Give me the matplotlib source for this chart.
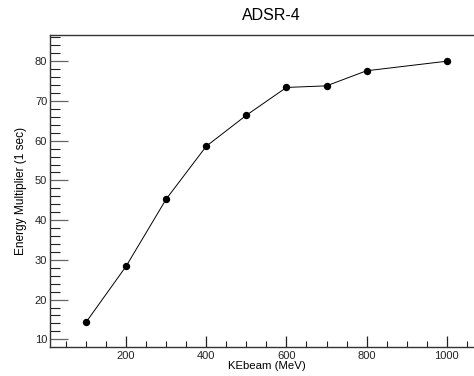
import matplotlib
matplotlib.use("Agg")
import matplotlib.pyplot as plt
from matplotlib.ticker import MultipleLocator

plt.rcParams['font.family'] = ['Liberation Sans', 'DejaVu Sans']

ke_beam = [100, 200, 300, 400, 500, 600, 700, 800, 1000]
energy_mult = [14.3, 28.4, 45.3, 58.6, 66.4, 73.4, 73.8, 77.6, 80.0]

fig = plt.figure(figsize=(4.74, 3.76), dpi=100)
ax = fig.add_axes([50/474, 1 - 347/376, (484 - 50)/474, (347 - 35)/376])

ax.plot(ke_beam, energy_mult, color='black', lw=0.7, marker='o', ms=4.3,
        markerfacecolor='black', markeredgecolor='black')

ax.set_xlim(10, 1093)
ax.set_ylim(8.06, 86.6)

ax.xaxis.set_major_locator(MultipleLocator(200))
ax.xaxis.set_minor_locator(MultipleLocator(50))
ax.yaxis.set_major_locator(MultipleLocator(10))
ax.yaxis.set_minor_locator(MultipleLocator(2))

ax.tick_params(axis='both', which='both', direction='in', labelsize=8, colors='#222222')
ax.tick_params(axis='x', which='major', length=8, width=0.9, top=False, pad=3)
ax.tick_params(axis='x', which='minor', length=4, width=0.8, top=False)
ax.tick_params(axis='y', which='major', length=13, width=0.9, right=False, pad=2, color='#666666')
ax.tick_params(axis='y', which='minor', length=7, width=0.8, right=False)

for s in ['left', 'bottom', 'top']:
    ax.spines[s].set_linewidth(1.0)
    ax.spines[s].set_color('#333333')
ax.spines['right'].set_visible(False)

ax.set_xlabel('KEbeam (MeV)', fontsize=8.2, labelpad=0)
ax.set_ylabel('Energy Multiplier (1 sec)', fontsize=8.6, labelpad=6)
fig.text(271/474, 1 - 16/376, 'ADSR-4', ha='center', va='center', fontsize=11.5)

fig.savefig('out.png', dpi=100)
